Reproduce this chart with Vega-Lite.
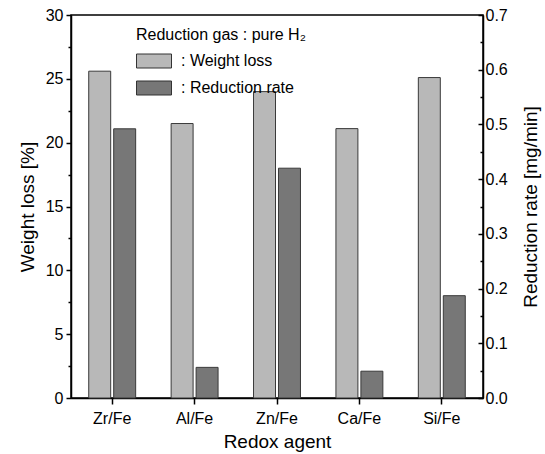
{
  "$schema": "https://vega.github.io/schema/vega-lite/v6.json",
  "width": 412,
  "height": 383,
  "autosize": {"type": "none"},
  "padding": {"left": 71, "top": 15, "right": 62, "bottom": 56},
  "background": "white",
  "config": {
    "font": "Liberation Sans",
    "view": {"stroke": "black", "strokeWidth": 1.5},
    "axis": {
      "grid": false,
      "domainColor": "black",
      "domainWidth": 1.5,
      "tickColor": "black",
      "tickWidth": 1.5,
      "labelColor": "black",
      "titleColor": "black",
      "labelFontSize": 16,
      "titleFontSize": 19,
      "titleFontWeight": "normal",
      "labelFont": "Liberation Sans",
      "titleFont": "Liberation Sans"
    }
  },
  "data": {
    "values": [
      {"agent": "Zr/Fe", "series": "Weight loss", "value": 25.6},
      {"agent": "Zr/Fe", "series": "Reduction rate", "value": 0.492},
      {"agent": "Al/Fe", "series": "Weight loss", "value": 21.5},
      {"agent": "Al/Fe", "series": "Reduction rate", "value": 0.056},
      {"agent": "Zn/Fe", "series": "Weight loss", "value": 24.0},
      {"agent": "Zn/Fe", "series": "Reduction rate", "value": 0.42},
      {"agent": "Ca/Fe", "series": "Weight loss", "value": 21.1},
      {"agent": "Ca/Fe", "series": "Reduction rate", "value": 0.049},
      {"agent": "Si/Fe", "series": "Weight loss", "value": 25.1},
      {"agent": "Si/Fe", "series": "Reduction rate", "value": 0.187}
    ]
  },
  "encoding": {
    "x": {
      "field": "agent",
      "type": "nominal",
      "sort": ["Zr/Fe", "Al/Fe", "Zn/Fe", "Ca/Fe", "Si/Fe"],
      "scale": {"paddingInner": 0, "paddingOuter": 0},
      "axis": {
        "title": "Redox agent",
        "labelAngle": 0,
        "tickSize": 6,
        "labelPadding": 6,
        "titlePadding": 6,
        "bandPosition": 0.5
      }
    },
    "xOffset": {
      "field": "series",
      "type": "nominal",
      "sort": ["Weight loss", "Reduction rate"],
      "scale": {"domain": ["Weight loss", "Reduction rate"], "paddingInner": 0.12, "paddingOuter": 0.71}
    },
    "fill": {
      "field": "series",
      "type": "nominal",
      "scale": {"domain": ["Weight loss", "Reduction rate"], "range": ["#b8b8b8", "#777777"]},
      "legend": {
        "title": "Reduction gas : pure H₂",
        "orient": "none",
        "legendX": 65,
        "legendY": 12,
        "titleFontSize": 16,
        "titleFontWeight": "normal",
        "titleColor": "black",
        "titlePadding": 0,
        "labelFontSize": 16,
        "labelColor": "black",
        "labelExpr": "': ' + datum.label",
        "symbolType": "M-1,-0.4H1V0.4H-1Z",
        "symbolSize": 1225,
        "symbolStrokeColor": "#333333",
        "symbolStrokeWidth": 1,
        "symbolOpacity": 1,
        "labelOffset": 9,
        "rowPadding": -1
      }
    }
  },
  "layer": [
    {
      "transform": [{"filter": "datum.series === 'Weight loss'"}],
      "mark": {"type": "bar", "stroke": "#3a3a3a", "strokeWidth": 1},
      "encoding": {
        "y": {
          "field": "value",
          "type": "quantitative",
          "scale": {"domain": [0, 30], "nice": false},
          "axis": {
            "title": "Weight loss [%]",
            "orient": "left",
            "values": [0, 2.5, 5, 7.5, 10, 12.5, 15, 17.5, 20, 22.5, 25, 27.5, 30],
            "labelExpr": "datum.value % 5 === 0 ? datum.label : ''",
            "tickSize": {"condition": {"test": "datum.value % 5 === 0", "value": 5}, "value": 3},
            "labelPadding": 3,
            "titlePadding": 8
          }
        }
      }
    },
    {
      "transform": [{"filter": "datum.series === 'Reduction rate'"}],
      "mark": {"type": "bar", "stroke": "#3a3a3a", "strokeWidth": 1},
      "encoding": {
        "y": {
          "field": "value",
          "type": "quantitative",
          "scale": {"domain": [0, 0.7], "nice": false},
          "axis": {
            "title": "Reduction rate [mg/min]",
            "orient": "right",
            "values": [0, 0.05, 0.1, 0.15, 0.2, 0.25, 0.3, 0.35, 0.4, 0.45, 0.5, 0.55, 0.6, 0.65, 0.7],
            "format": ".1f",
            "labelExpr": "round(datum.value * 20) % 2 === 0 ? datum.label : ''",
            "tickSize": {"condition": {"test": "round(datum.value * 20) % 2 === 0", "value": -5}, "value": -3},
            "labelPadding": 7,
            "titleAngle": 270,
            "titlePadding": 33
          }
        }
      }
    }
  ],
  "resolve": {"scale": {"y": "independent"}}
}
